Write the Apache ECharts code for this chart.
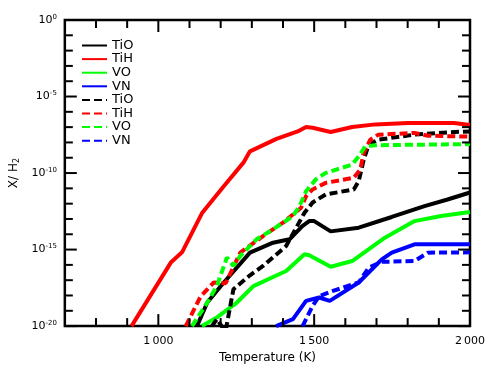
<!DOCTYPE html>
<html>
<head>
<meta charset="utf-8">
<script src="https://cdn.jsdelivr.net/npm/echarts@6/dist/echarts.min.js"></script>
<style>
html, body { margin: 0; padding: 0; background: #fff; }
#main { width: 490px; height: 369px; }
</style>
</head>
<body>
<div id="main"></div>
<script>
// [temperature K, log10(X/H2)]
var tioSolid = [[1124,-20],[1157,-18.46],[1210,-17.15],[1294,-15.2],[1368,-14.55],[1421,-14.33],[1462,-13.47],[1484,-13.14],[1500,-13.14],[1553,-13.81],[1643,-13.57],[1749,-12.87],[1854,-12.16],[1928,-11.73],[2000,-11.27]];
var tihSolid = [[914,-20],[1040,-15.85],[1076,-15.18],[1141,-12.59],[1210,-10.86],[1273,-9.32],[1294,-8.58],[1379,-7.77],[1447,-7.28],[1474,-6.99],[1495,-7.04],[1553,-7.32],[1622,-6.99],[1696,-6.82],[1801,-6.73],[1949,-6.73],[2000,-6.86]];
var voSolid = [[1140,-20],[1188,-19.43],[1252,-18.46],[1305,-17.39],[1410,-16.4],[1469,-15.31],[1484,-15.37],[1553,-16.12],[1622,-15.75],[1727,-14.22],[1822,-13.14],[1907,-12.81],[2000,-12.55]];
var vnSolid = [[1378,-20],[1432,-19.54],[1474,-18.35],[1516,-18.13],[1550,-18.35],[1643,-17.15],[1717,-15.64],[1749,-15.2],[1822,-14.66],[2000,-14.66]];
var tioDashed = [[1172,-20],[1188,-19.54],[1203,-20],[1216,-20.3],[1241,-17.59],[1294,-16.68],[1336,-16.07],[1410,-14.77],[1469,-12.59],[1495,-11.92],[1537,-11.4],[1627,-11.07],[1643,-10.53],[1659,-9.12],[1675,-8.14],[1706,-7.82],[1822,-7.49],[1928,-7.34],[2000,-7.28]];
var tihDashed = [[1088,-20],[1136,-18.05],[1178,-17.15],[1216,-17.2],[1263,-15.2],[1336,-14.12],[1400,-13.24],[1458,-12.27],[1474,-11.51],[1495,-11.07],[1537,-10.64],[1627,-10.31],[1648,-9.77],[1659,-8.68],[1680,-7.82],[1706,-7.49],[1822,-7.38],[1865,-7.56],[2000,-7.62]];
var voDashed = [[1108,-20],[1157,-18.46],[1188,-17.37],[1220,-15.52],[1241,-16.07],[1263,-15.42],[1315,-14.33],[1368,-13.68],[1432,-12.81],[1453,-12.16],[1474,-11.19],[1505,-10.42],[1537,-9.99],[1622,-9.45],[1643,-8.91],[1664,-8.25],[1696,-8.18],[2000,-8.11]];
var vnDashed = [[1463,-20],[1495,-18.68],[1516,-18.05],[1558,-17.72],[1643,-17.15],[1675,-16.18],[1717,-15.8],[1822,-15.75],[1865,-15.2],[2000,-15.18]];

// tick values
var xMajor = [1000, 1500, 2000];
var xMinor = [800, 900, 1100, 1200, 1300, 1400, 1600, 1700, 1800, 1900];
var yMajor = [-20, -15, -10, -5, 0];
var yMinor = [-19, -18, -17, -16, -14, -13, -12, -11, -9, -8, -7, -6, -4, -3, -2, -1];

var font = 'DejaVu Sans';
var xMin = 700, xMax = 2000, yMin = -20, yMax = 0;

// axis ticks would not show up in the full chart, so they are drawn by a custom series
// item: [value, length, 0 = x tick / 1 = y tick]
var tickData = []
  .concat(xMajor.map(function (v) { return [v, 12, 0]; }))
  .concat(xMinor.map(function (v) { return [v, 8, 0]; }))
  .concat(yMajor.map(function (v) { return [v, 12, 1]; }))
  .concat(yMinor.map(function (v) { return [v, 8, 1]; }));

function renderTick(params, api) {
  var v = api.value(0), len = api.value(1), kind = api.value(2);
  var style = { stroke: '#000', lineWidth: 2 };
  var a, b;
  if (kind === 0) {
    a = api.coord([v, yMin]); b = api.coord([v, yMax]);
    return { type: 'group', children: [
      { type: 'line', shape: { x1: a[0], y1: a[1], x2: a[0], y2: a[1] - len }, style: style },
      { type: 'line', shape: { x1: b[0], y1: b[1], x2: b[0], y2: b[1] + len }, style: style }
    ] };
  }
  a = api.coord([xMin, v]); b = api.coord([xMax, v]);
  return { type: 'group', children: [
    { type: 'line', shape: { x1: a[0], y1: a[1], x2: a[0] + len, y2: a[1] }, style: style },
    { type: 'line', shape: { x1: b[0], y1: b[1], x2: b[0] - len, y2: b[1] }, style: style }
  ] };
}

function line(name, data, color, dashed) {
  return {
    name: name, type: 'line', data: data, showSymbol: false, symbol: 'none',
    clip: true, animation: false,
    lineStyle: { color: color, width: 4, type: dashed ? [8, 4] : 'solid' },
    itemStyle: { color: color }
  };
}

var myChart = echarts.init(document.getElementById('main'));
option = {
  animation: false,
  grid: { left: 60, right: 20, top: 20, bottom: 42, show: true, borderColor: '#000', borderWidth: 2.5, backgroundColor: 'transparent' },
  legend: {
    orient: 'vertical', left: 76, top: 34,
    itemWidth: 25, itemHeight: 8, itemGap: 0.6,
    itemStyle: { opacity: 0 },
    data: ['TiO', 'TiH', 'VO', 'VN', 'TiO (2)', 'TiH (2)', 'VO (2)', 'VN (2)'],
    formatter: function (n) { return n.replace(' (2)', ''); },
    textStyle: { fontFamily: font, fontSize: 13, lineHeight: 13, color: '#000' }
  },
  xAxis: {
    type: 'value', min: xMin, max: xMax,
    axisLine: { show: false }, axisTick: { show: false }, splitLine: { show: false },
    axisLabel: {
      customValues: xMajor.slice(), margin: 10, color: '#000', fontFamily: font, fontSize: 11,
      formatter: function (v) { return String(v).replace(/(\d)(\d{3})$/, '$1\u2009$2'); }
    },
    name: 'Temperature (K)', nameLocation: 'middle', nameGap: 25,
    nameTextStyle: { fontFamily: font, fontSize: 12, color: '#000' }
  },
  yAxis: {
    type: 'value', min: yMin, max: yMax, interval: 5,
    axisLine: { show: false }, axisTick: { show: false }, splitLine: { show: false },
    axisLabel: {
      margin: 8, color: '#000', fontFamily: font,
      formatter: function (v) { return '{b|10}{s|' + v + '}'; },
      rich: {
        b: { fontSize: 11, fontFamily: font, color: '#000' },
        s: { fontSize: 7, fontFamily: font, color: '#000', padding: [0, 0, 6, 0] }
      }
    },
    name: '{n|X/ H}{u|2}', nameLocation: 'middle', nameGap: 40,
    nameTextStyle: {
      rich: {
        n: { fontSize: 12, fontFamily: font, color: '#000' },
        u: { fontSize: 8, fontFamily: font, color: '#000', padding: [5, 0, 0, 0] }
      }
    }
  },
  series: [
    line('TiO', tioSolid, '#000000', false),
    line('TiH', tihSolid, '#ff0000', false),
    line('VO', voSolid, '#00ff00', false),
    line('VN', vnSolid, '#0000ff', false),
    line('TiO (2)', tioDashed, '#000000', true),
    line('TiH (2)', tihDashed, '#ff0000', true),
    line('VO (2)', voDashed, '#00ff00', true),
    line('VN (2)', vnDashed, '#0000ff', true),
    {
      name: 'ticks', type: 'custom', renderItem: renderTick, data: tickData,
      clip: false, silent: true, animation: false, z: 10
    }
  ]
};
myChart.setOption(option);
</script>
</body>
</html>
